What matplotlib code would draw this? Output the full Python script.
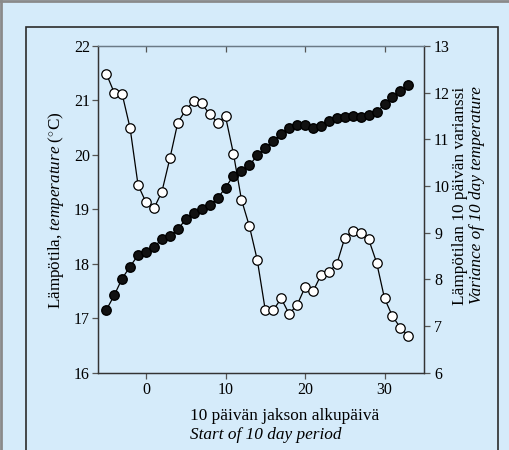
import matplotlib
matplotlib.use('Agg')
import matplotlib.pyplot as plt
from matplotlib.lines import Line2D
from matplotlib.patches import Rectangle

# start day of the 10 day period
day = list(range(-5, 34))

# mean temperature of the period (filled circles, left axis)
temperature = [17.15, 17.42, 17.73, 17.95, 18.16, 18.22, 18.31, 18.45, 18.51, 18.63,
               18.82, 18.94, 19.00, 19.08, 19.20, 19.40, 19.62, 19.71, 19.81, 19.99,
               20.12, 20.26, 20.38, 20.49, 20.54, 20.54, 20.49, 20.53, 20.63, 20.67,
               20.69, 20.71, 20.69, 20.73, 20.78, 20.94, 21.07, 21.17, 21.29]

# variance of the 10 day temperature (open circles, right axis)
variance = [12.41, 12.00, 11.97, 11.24, 10.02, 9.65, 9.52, 9.88, 10.59, 11.36,
            11.63, 11.82, 11.77, 11.54, 11.36, 11.49, 10.69, 9.71, 9.14, 8.41,
            7.34, 7.34, 7.59, 7.26, 7.45, 7.83, 7.74, 8.09, 8.16, 8.33,
            8.89, 9.04, 9.00, 8.86, 8.36, 7.59, 7.21, 6.96, 6.79]

bg = '#d5ebfa'
W, H = 510, 450
plt.rcParams['font.family'] = ['Liberation Serif', 'DejaVu Serif']
plt.rcParams['mathtext.fontset'] = 'custom'
plt.rcParams['mathtext.rm'] = 'Liberation Serif'
plt.rcParams['mathtext.it'] = 'Liberation Serif:italic'

fig = plt.figure(figsize=(5.1, 4.5), dpi=100)
fig.patch.set_facecolor(bg)

# grey border on left and top edge, dark inner frame
fig.lines.append(Line2D([1 / W, 1 / W], [0, 1 - 1 / H], transform=fig.transFigure,
                        color='#8a8a8a', linewidth=2))
fig.lines.append(Line2D([0, 1], [1 - 1 / H, 1 - 1 / H], transform=fig.transFigure,
                        color='#8a8a8a', linewidth=2))
fig.patches.append(Rectangle((26 / W, -0.05), 472 / W, 1.05 - 26.5 / H,
                             transform=fig.transFigure, fill=False,
                             edgecolor='#2b2b2b', linewidth=1.2))

ax = fig.add_axes([98.3 / W, 1 - 372.7 / H, 326 / W, 326.7 / H])
ax.set_facecolor(bg)
ax2 = ax.twinx()

ax.plot(day, temperature, '-o', color='black', linewidth=0.9, markersize=6.8,
        markerfacecolor='#111111', markeredgecolor='black', zorder=3)
ax2.plot(day, variance, '-o', color='black', linewidth=0.9, markersize=6.8,
         markerfacecolor='white', markeredgecolor='black', markeredgewidth=0.9, zorder=3)

ax.set_xlim(-6, 35)
ax.set_ylim(16, 22)
ax2.set_ylim(6, 13)
ax.set_xticks([0, 10, 20, 30])
ax.set_yticks(range(16, 23))
ax2.set_yticks(range(6, 14))

ax.tick_params(axis='both', labelsize=11.5, length=4, width=0.9, color='#555555', pad=2)
ax.tick_params(axis='x', top=True, direction='out', pad=3)
ax2.tick_params(axis='y', labelsize=11.5, length=4, width=0.9, color='#555555', pad=3)
for a in (ax, ax2):
    for s in a.spines.values():
        s.set_color('#333333')
        s.set_linewidth(0.9)
    a.spines['top'].set_color('#6b7a86')

# top ticks point into the plot
for t in ax.xaxis.get_major_ticks():
    t.tick2line.set_marker(3)

fig.text(56 / W, 1 - 210 / H, r'Lämpötila, $\mathit{temperature}$ ($^{\circ}$C)',
         rotation=90, ha='center', va='center', fontsize=12.3)
fig.text(460 / W, 1 - 196 / H, 'Lämpötilan 10 päivän varianssi', rotation=90,
         ha='center', va='center', fontsize=12.4)
fig.text(477 / W, 1 - 195 / H, 'Variance of 10 day temperature', rotation=90,
         ha='center', va='center', fontsize=12.4, style='italic')
fig.text(190.5 / W, 1 - 416.5 / H, '10 päivän jakson alkupäivä', ha='left',
         va='center', fontsize=12.4)
fig.text(190.5 / W, 1 - 435 / H, 'Start of 10 day period', ha='left',
         va='center', fontsize=12.4, style='italic')

fig.savefig('out.png', dpi=100, facecolor=bg)
